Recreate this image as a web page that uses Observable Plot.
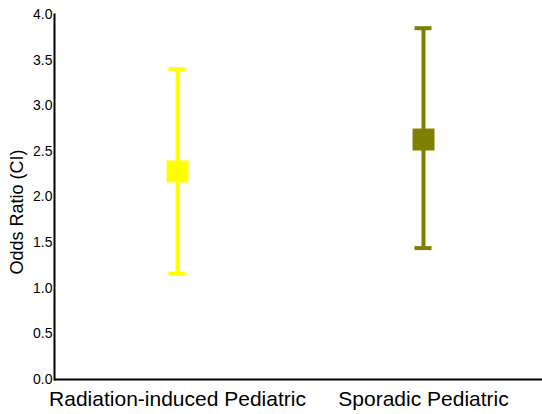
<!DOCTYPE html>
<html>
<head>
<meta charset="utf-8">
<script src="https://cdn.jsdelivr.net/npm/d3@7"></script>
<script src="https://cdn.jsdelivr.net/npm/@observablehq/plot@0.6"></script>
<style>
  html, body { margin: 0; padding: 0; background: #fff; }
  #chart svg { display: block; font-family: "Liberation Sans", Arial, sans-serif; }
</style>
</head>
<body>
<div id="chart"></div>
<script>
const categories = ["Radiation-induced Pediatric", "Sporadic Pediatric"];
const oddsRatio = [2.28, 2.63];
const ciLow = [1.16, 1.44];
const ciHigh = [3.40, 3.85];
const colors = ["#ffff00", "#808000"];
const yTicks = [0, 0.5, 1, 1.5, 2, 2.5, 3, 3.5, 4];
const yLabel = "Odds Ratio (CI)";

const data = categories.map((c, i) => ({cat: c, or: oddsRatio[i], lo: ciLow[i], hi: ciHigh[i], color: colors[i]}));

const W = 542, H = 414, ML = 54, MR = -4;
const bandW = (W - ML - MR) / categories.length;
const capW = 17;
const capInset = (bandW - capW) / 2;

const chart = Plot.plot({
  width: W,
  height: H,
  marginLeft: ML,
  marginRight: MR,
  marginTop: 14,
  marginBottom: 35,
  style: {fontFamily: "'Liberation Sans', Arial, sans-serif", background: "#fff", overflow: "visible"},
  x: {type: "band", domain: categories, padding: 0, label: null},
  y: {domain: [0, 4], label: null},
  color: {type: "identity"},
  marks: [
    Plot.ruleX(data, {x: "cat", y1: "lo", y2: "hi", stroke: "color", strokeWidth: 4}),
    Plot.tickY(data, {x: "cat", y: "hi", stroke: "color", strokeWidth: 4, insetLeft: capInset, insetRight: capInset}),
    Plot.tickY(data, {x: "cat", y: "lo", stroke: "color", strokeWidth: 4, insetLeft: capInset, insetRight: capInset}),
    Plot.dot(data, {x: "cat", y: "or", symbol: "square", r: 12.4, fill: "color", stroke: null}),
    Plot.axisY({ticks: yTicks, tickFormat: d3.format(".1f"), tickSize: 0, tickPadding: 2, fontSize: 14, label: null, color: "#000"}),
    Plot.frame({anchor: "left", stroke: "#000", strokeWidth: 2}),
    Plot.axisX({tickSize: 0, tickPadding: 12, fontSize: 21, label: null, color: "#000"}),
    Plot.ruleY([0], {stroke: "#000", strokeWidth: 2}),
    Plot.text([yLabel], {frameAnchor: "left", textAnchor: "middle", rotate: -90, dx: -37, dy: 15, fontSize: 18, fill: "#000"})
  ]
});
document.getElementById("chart").appendChild(chart);
</script>
</body>
</html>
